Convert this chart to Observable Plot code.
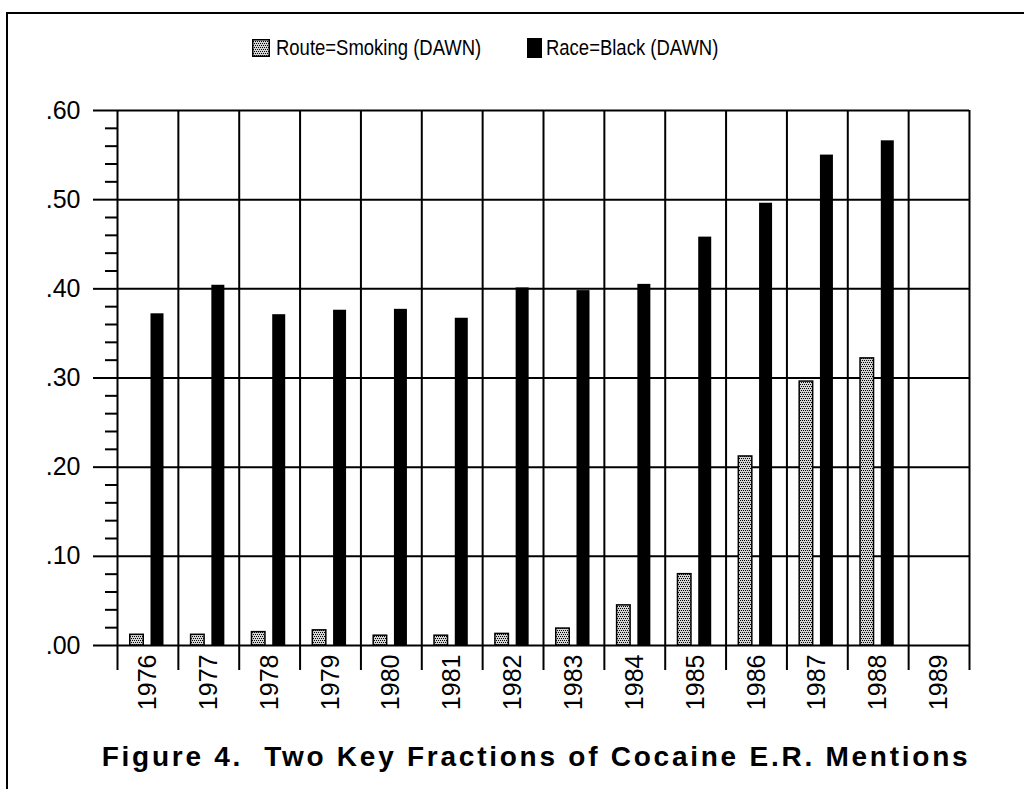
<!DOCTYPE html>
<html><head><meta charset="utf-8">
<script src="https://cdn.jsdelivr.net/npm/d3@7"></script>
<script src="https://cdn.jsdelivr.net/npm/@observablehq/plot@0.6"></script>
<style>
html,body{margin:0;padding:0;background:#fff;}
body{width:1024px;height:789px;position:relative;overflow:hidden;font-family:"Liberation Sans",Arial,Helvetica,sans-serif;color:#000;}
#frame{position:absolute;left:6px;top:12px;width:1030px;height:800px;border-top:2px solid #000;border-left:2px solid #000;box-sizing:border-box;}
.lg{position:absolute;font-size:22px;line-height:22px;white-space:nowrap;transform-origin:0 0;transform:scaleX(0.84);}
.sw{position:absolute;}
#chart{position:absolute;left:0;top:80px;}
#title{position:absolute;left:0;width:1072px;top:743px;text-align:center;font-weight:bold;font-size:28px;line-height:28px;letter-spacing:2.75px;white-space:pre;}
</style>
</head><body>
<svg width="0" height="0" style="position:absolute">
  <defs>
    <pattern id="dots" patternUnits="userSpaceOnUse" width="4" height="4">
      <rect width="4" height="4" fill="#d4d4d4"/>
      <rect x="0" y="0" width="1" height="1" fill="#000"/>
      <rect x="2" y="0" width="1" height="1" fill="#000"/>
      <rect x="1" y="2" width="1" height="1" fill="#000"/>
      <rect x="3" y="2" width="1" height="1" fill="#000"/>
    </pattern>
  </defs>
</svg>
<div id="frame"></div>
<svg class="sw" style="left:252px;top:39px" width="18" height="18"><rect x="0.75" y="0.75" width="16.5" height="16.5" fill="url(#dots)" stroke="#000" stroke-width="1.5"/></svg>
<div class="lg" id="lg1" style="left:276px;top:37px"></div>
<svg class="sw" style="left:527px;top:38px" width="15" height="20"><rect width="15" height="20" fill="#000"/></svg>
<div class="lg" id="lg2" style="left:546px;top:37px"></div>
<div id="chart"></div>
<div id="title"></div>
<script>
const years = ["1976","1977","1978","1979","1980","1981","1982","1983","1984","1985","1986","1987","1988","1989"];
const smoking = [0.012,0.012,0.015,0.017,0.011,0.011,0.013,0.019,0.045,0.080,0.212,0.296,0.322,null];
const black   = [0.372,0.404,0.371,0.376,0.377,0.367,0.401,0.398,0.405,0.458,0.496,0.550,0.566,null];
const seriesNames = ["Route=Smoking (DAWN)","Race=Black (DAWN)"];
const yTicks = [0,0.1,0.2,0.3,0.4,0.5,0.6];
const yMinor = [0.02,0.04,0.06,0.08,0.12,0.14,0.16,0.18,0.22,0.24,0.26,0.28,0.32,0.34,0.36,0.38,0.42,0.44,0.46,0.48,0.52,0.54,0.56,0.58];
const titleText = "Figure 4.  Two Key Fractions of Cocaine E.R. Mentions";

document.getElementById("lg1").textContent = seriesNames[0];
document.getElementById("lg2").textContent = seriesNames[1];
document.getElementById("title").textContent = titleText;

const W = 1024, H = 650, mL = 117, mR = 55, mT = 30, mB = 85;
const bw = (W - mL - mR) / years.length;

const smokingData = years.map((y, i) => ({year: y, v: smoking[i]})).filter(d => d.v != null);
const blackData = years.map((y, i) => ({year: y, v: black[i]})).filter(d => d.v != null);

const fmt = d => d3.format(".2f")(d).replace(/^0/, "");

const chart = Plot.plot({
  width: W, height: H,
  marginLeft: mL, marginRight: mR, marginTop: mT, marginBottom: mB,
  style: {fontFamily: "'Liberation Sans', Arial, Helvetica, sans-serif", fontSize: "25px", background: "transparent", color: "#000", overflow: "visible"},
  x: {type: "band", domain: years, padding: 0, round: false, axis: null, label: null},
  y: {domain: [0, 0.6], axis: null, label: null},
  marks: [
    Plot.gridY({ticks: yTicks, stroke: "#000", strokeOpacity: 1, strokeWidth: 2}),
    Plot.ruleX(years, {x: d => d, dx: -bw / 2, insetBottom: -25, stroke: "#000", strokeWidth: 2}),
    Plot.ruleX(years.slice(-1), {x: d => d, dx: bw / 2, insetBottom: -25, stroke: "#000", strokeWidth: 2}),
    Plot.axisY({ticks: yTicks, tickFormat: fmt, tickSize: 24, tickPadding: 13, strokeWidth: 2, fontSize: 25, label: null}),
    Plot.axisY({ticks: yMinor, tickFormat: () => "", tickSize: 12, strokeWidth: 2, label: null}),
    Plot.axisX({tickRotate: -90, tickSize: 0, tickPadding: 9, fontSize: 25, label: null}),
    Plot.barY(smokingData, {x: "year", y1: 0, y2: "v", insetLeft: 12.75, insetRight: bw - 26.25, fill: "url(#dots)", stroke: "#000", strokeWidth: 1.5}),
    Plot.barY(blackData, {x: "year", y1: 0, y2: "v", insetLeft: 33.5, insetRight: bw - 46.5, fill: "#000"})
  ]
});
document.getElementById("chart").appendChild(chart);
</script>
</body></html>
